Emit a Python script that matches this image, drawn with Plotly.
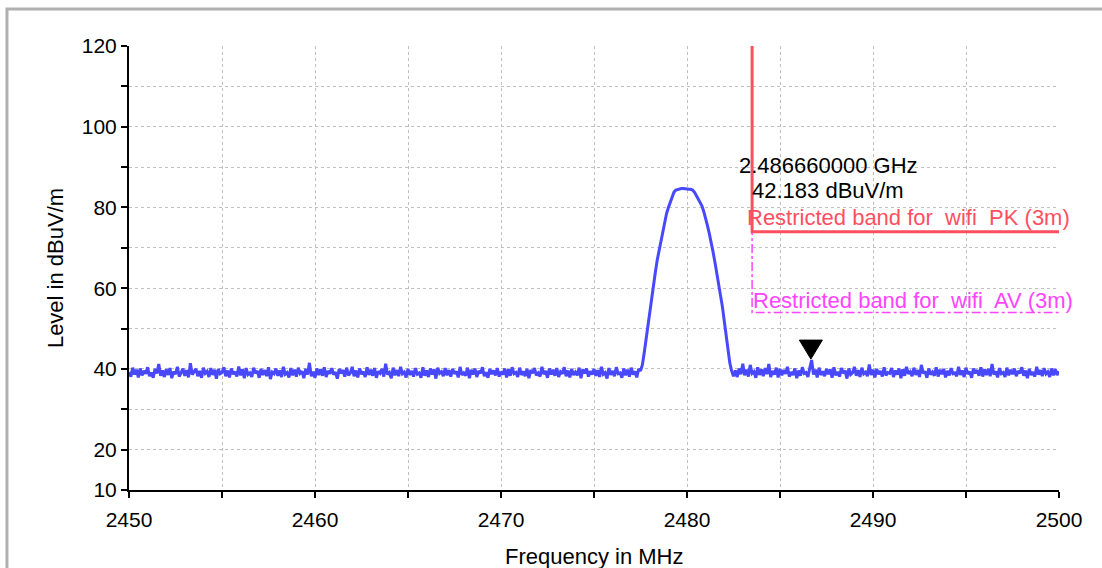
import plotly.graph_objects as go

# ---------------- data ----------------
F_START = 2450.0      # MHz, first sweep point
F_STEP = 0.1          # MHz, sweep step
N_POINTS = 501

# measured level (dBuV/m), 2450.0 ... 2477.4 MHz (noise floor left of carrier)
level_left = [
    39.2, 38.1, 40.3, 38.6, 39.8, 37.9, 40.1, 38.4, 39.5, 38.8,
    40.4, 38.2, 39.1, 37.8, 40.0, 38.9, 41.2, 38.3, 39.6, 38.0,
    39.9, 38.5, 40.2, 37.7, 39.3, 38.7, 40.5, 38.1, 39.0, 40.1,
    38.3, 39.7, 37.9, 41.4, 38.6, 39.2, 40.0, 38.2, 39.5, 37.8,
    40.3, 38.9, 39.4, 38.0, 40.2, 38.5, 39.8, 37.6, 40.0, 38.8,
    39.1, 40.4, 38.2, 39.6, 37.9, 40.1, 38.7, 39.3, 38.1, 40.6,
    38.4, 39.9, 37.7, 40.2, 38.6, 39.0, 38.0, 40.3, 38.9, 39.5,
    37.8, 40.0, 38.5, 39.7, 38.2, 40.4, 37.5, 39.2, 38.8, 40.1,
    38.3, 39.6, 38.0, 40.5, 38.7, 39.1, 37.9, 40.2, 38.4, 39.8,
    38.1, 40.3, 38.9, 39.4, 37.7, 40.0, 38.6, 41.5, 38.2, 39.3,
    37.8, 40.1, 38.5, 39.9, 38.3, 40.4, 38.0, 39.5, 38.8, 40.2,
    38.6, 39.2, 37.6, 40.0, 38.9, 39.7, 38.1, 40.3, 38.4, 39.0,
    40.5, 38.2, 39.6, 37.9, 40.1, 38.7, 39.3, 38.0, 40.4, 38.5,
    39.8, 38.3, 40.2, 37.8, 39.4, 38.9, 40.0, 38.1, 41.3, 38.6,
    39.1, 37.7, 40.3, 38.4, 39.7, 38.2, 40.5, 38.8, 39.2, 37.9,
    40.0, 38.5, 39.5, 38.1, 40.2, 38.7, 39.0, 37.8, 40.4, 38.3,
    39.6, 38.0, 40.1, 38.6, 39.9, 37.6, 40.3, 38.9, 39.3, 38.2,
    40.2, 38.4, 39.7, 38.1, 40.0, 38.8, 39.4, 37.9, 40.5, 38.5,
    39.0, 38.3, 40.3, 37.7, 39.8, 38.6, 40.1, 38.0, 39.5, 38.9,
    40.4, 38.2, 39.2, 37.8, 40.0, 38.7, 39.6, 38.4, 40.2, 38.1,
    39.3, 38.6, 40.1, 37.9, 39.9, 38.3, 40.4, 38.8, 39.1, 38.0,
    40.3, 38.5, 39.4, 38.2, 40.0, 37.7, 39.7, 38.9, 40.2, 38.4,
    39.0, 38.1, 40.5, 38.7, 39.5, 37.8, 40.1, 38.6, 39.8, 38.3,
    40.2, 38.0, 39.3, 38.8, 40.4, 38.2, 39.6, 37.9, 40.0, 38.5,
    39.2, 38.4, 40.3, 37.7, 39.9, 38.9, 40.1, 38.1, 39.4, 38.6,
    40.0, 38.3, 39.7, 38.0, 40.5, 38.7, 39.1, 37.6, 40.2, 38.5,
    39.5, 38.2, 40.4, 38.8, 39.0, 37.8, 40.1, 38.4, 39.8, 38.1,
    40.3, 38.6, 39.4, 37.9, 40.0,
]

# measured level (dBuV/m), 2477.5 ... 2482.4 MHz (carrier)
level_carrier = [
    39.5, 41.0, 44.0, 47.5, 50.5, 53.5, 57.5, 61.0, 64.0, 67.0,
    69.5, 72.0, 74.5, 76.5, 78.5, 80.0, 81.3, 83.0, 83.8, 84.3,
    84.5, 84.6, 84.7, 84.7, 84.6, 84.6, 84.5, 84.5, 84.3, 83.8,
    83.0, 82.1, 81.3, 80.4, 79.0, 77.5, 75.5, 73.5, 71.5, 69.0,
    66.5, 64.0, 61.5, 58.5, 55.5, 52.0, 48.5, 45.0, 41.5, 39.5,
]

# measured level (dBuV/m), 2482.5 ... 2500.0 MHz (restricted band)
level_right = [
    38.2, 39.6, 38.0, 40.1, 38.7,
    41.3, 38.4, 39.8, 38.1, 41.0, 38.9, 39.3, 37.8, 40.4, 38.5,
    39.9, 38.2, 40.2, 38.7, 41.2, 38.0, 39.5, 38.6, 40.3, 37.9,
    40.0, 38.4, 39.7, 38.8, 40.5, 38.1, 39.2, 38.5, 40.1, 37.7,
    39.6, 38.3, 40.4, 38.9, 39.1, 38.0, 40.2, 42.2, 38.6, 39.8,
    37.9, 40.3, 38.5, 39.4, 38.2, 40.0, 38.7, 39.9, 37.8, 40.4,
    38.4, 39.3, 38.1, 40.2, 38.9, 39.6, 37.6, 40.1, 38.6, 39.0,
    40.5, 38.3, 39.7, 38.0, 40.3, 38.8, 39.2, 38.2, 41.1, 38.5,
    39.8, 37.9, 40.0, 38.7, 39.5, 38.1, 40.4, 38.4, 39.1, 38.9,
    40.2, 38.0, 39.6, 38.6, 40.1, 37.7, 39.9, 38.3, 40.5, 38.8,
    39.3, 38.2, 40.3, 38.5, 39.7, 38.0, 41.0, 38.9, 39.4, 37.8,
    40.1, 38.6, 39.2, 38.3, 40.4, 38.1, 39.8, 38.7, 40.0, 37.9,
    39.5, 38.4, 40.2, 38.8, 39.0, 38.2, 40.5, 38.5, 39.6, 38.0,
    40.3, 38.7, 39.3, 37.8, 40.1, 38.9, 39.7, 38.3, 40.4, 38.1,
    39.9, 38.5, 40.0, 38.2, 41.2, 38.6, 39.4, 37.9, 40.2, 38.8,
    39.1, 38.0, 40.3, 38.4, 39.8, 38.7, 40.1, 38.2, 39.5, 38.9,
    40.4, 38.3, 39.6, 37.7, 40.0, 38.5, 39.2, 38.1, 40.5, 38.6,
    39.7, 38.2, 40.2, 38.8, 39.3, 38.0, 40.1, 38.4, 39.9, 38.5,
    39.4,
]

# limit lines (restricted band, 3 m)
limit_pk_freq = [2483.5, 2483.5, 2500.0]
limit_pk_level = [120.0, 74.0, 74.0]
limit_av_freq = [2483.5, 2483.5, 2500.0]
limit_av_level = [120.0, 54.0, 54.0]

# marker
marker_freq_mhz = 2486.66
marker_level = 42.183

# axes
x_tickvals = [2450, 2455, 2460, 2465, 2470, 2475, 2480, 2485, 2490, 2495, 2500]
x_ticktext = ["2450", "", "2460", "", "2470", "", "2480", "", "2490", "", "2500"]
y_tickvals = [10, 20, 30, 40, 50, 60, 70, 80, 90, 100, 110, 120]
y_ticktext = ["10", "20", "", "40", "", "60", "", "80", "", "100", "", "120"]

# ---------------- figure ----------------
freq = [round(F_START + F_STEP * i, 1) for i in range(N_POINTS)]
level = level_left + level_carrier + level_right

FONT = "Liberation Sans, Arial, Helvetica, sans-serif"
BLUE = "#4848ff"
RED = "#ff4f5f"
MAGENTA = "#ff44ff"
TXT = 22

fig = go.Figure()
fig.add_trace(go.Scatter(x=limit_av_freq, y=limit_av_level, mode="lines",
                         line=dict(color=MAGENTA, width=1.5, dash="dashdot"),
                         hoverinfo="skip"))
fig.add_trace(go.Scatter(x=limit_pk_freq, y=limit_pk_level, mode="lines",
                         line=dict(color=RED, width=3), hoverinfo="skip"))
fig.add_trace(go.Scatter(x=freq, y=level, mode="lines",
                         line=dict(color=BLUE, width=3)))

# marker triangle (tip on the marker point)
fig.add_shape(type="path", xref="x", yref="y", xsizemode="pixel", ysizemode="pixel",
              xanchor=marker_freq_mhz, yanchor=marker_level,
              path="M -11.5,20 L 11.5,20 L 0,1 Z",
              fillcolor="black", line=dict(color="black", width=1))

fig.add_annotation(x=2482.69, y=90.5, xref="x", yref="y", xanchor="left", yanchor="middle",
                   text=f"{marker_freq_mhz/1000:.9f} GHz", showarrow=False,
                   font=dict(family=FONT, size=TXT, color="black"))
fig.add_annotation(x=2483.39, y=84.1, xref="x", yref="y", xanchor="left", yanchor="middle",
                   text=f"{marker_level:.3f} dBuV/m", showarrow=False,
                   font=dict(family=FONT, size=TXT, color="black"))
fig.add_annotation(x=2483.12, y=77.4, xref="x", yref="y", xanchor="left", yanchor="middle",
                   text="Restricted band for  wifi  PK (3m)", showarrow=False,
                   font=dict(family=FONT, size=TXT, color=RED))
fig.add_annotation(x=2483.44, y=56.9, xref="x", yref="y", xanchor="left", yanchor="middle",
                   text="Restricted band for  wifi  AV (3m)", showarrow=False,
                   font=dict(family=FONT, size=TXT, color=MAGENTA))

# x axis title (partly below the visible page, as in the original)
fig.add_annotation(x=0.5, y=0, xref="paper", yref="paper", xanchor="center", yanchor="middle",
                   yshift=-66, text="Frequency in MHz", showarrow=False,
                   font=dict(family=FONT, size=TXT, color="black"))

# outer frame
fig.add_shape(type="rect", xref="paper", yref="paper",
              x0=-0.1312, x1=1.2, y0=-0.4, y1=1.0833,
              line=dict(color="#b0b0b0", width=3), layer="below")

axis_common = dict(showline=True, linecolor="black", linewidth=2, zeroline=False,
                   tickcolor="black", tickwidth=2, ticklen=6, automargin=False,
                   tickfont=dict(family=FONT, size=21, color="black"))

fig.update_layout(
    width=1102, height=568,
    margin=dict(l=129, r=43, t=46, b=78),
    paper_bgcolor="white", plot_bgcolor="white",
    showlegend=False,
    xaxis=dict(range=[2450, 2500], tickmode="array", tickvals=x_tickvals, ticktext=x_ticktext,
               ticks="outside", showgrid=True, gridcolor="#c0c0c0", griddash="dot", gridwidth=1,
               ticklabelstandoff=4,
               **axis_common),
    yaxis=dict(range=[10, 120], tickmode="array", tickvals=y_tickvals, ticktext=y_ticktext,
               ticks="outside", showgrid=True, gridcolor="#c0c0c0", griddash="dot", gridwidth=1,
               title=dict(text="Level in dBuV/m", font=dict(family=FONT, size=TXT, color="black"),
                          standoff=12),
               **axis_common),
    xaxis2=dict(range=[2450, 2500], overlaying="x", anchor="y", side="bottom",
                tickmode="array", tickvals=x_tickvals, ticks="inside", ticklen=6, tickwidth=2,
                tickcolor="black", showticklabels=False, showgrid=False, showline=False,
                zeroline=False),
    yaxis2=dict(range=[10, 120], overlaying="y", anchor="x", side="left",
                tickmode="array", tickvals=y_tickvals, ticks="inside", ticklen=6, tickwidth=2,
                tickcolor="black", showticklabels=False, showgrid=False, showline=False,
                zeroline=False),
)

fig.write_html("out.html", config={"displayModeBar": False},
               post_script="document.body.style.margin='0';document.body.style.overflow='hidden';")
